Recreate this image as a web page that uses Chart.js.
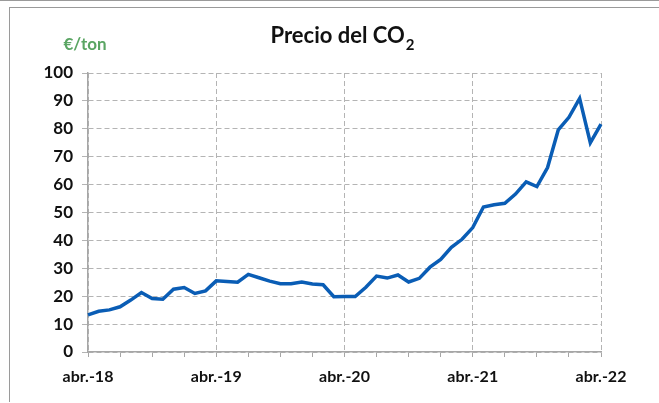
<!DOCTYPE html>
<html>
<head>
<meta charset="utf-8">
<script src="https://cdn.jsdelivr.net/npm/chart.js@4"></script>
<style>
  html, body { margin: 0; padding: 0; background: #fff; }
  #wrap { position: relative; width: 659px; height: 403px; overflow: hidden; }
  .topline { position: absolute; left: 0; top: 0; width: 659px; height: 1px; background: #9a9a9a; }
  .frame { position: absolute; left: 9px; top: 7px; width: 660px; height: 394px;
           border-left: 1px solid #9a9a9a; border-top: 1px solid #9a9a9a; }
  canvas { position: absolute; left: 0; top: 0; }
</style>
</head>
<body>
<div id="wrap">
  <div class="topline"></div>
  <div class="frame"></div>
  <canvas id="co2" width="659" height="403"></canvas>
</div>
<script>
// meses abr-18 .. abr-22
const mesesCortos = ['ene.', 'feb.', 'mar.', 'abr.', 'may.', 'jun.', 'jul.', 'ago.', 'sept.', 'oct.', 'nov.', 'dic.'];
const meses = [];
for (let i = 0; i < 49; i++) {
    const m = (3 + i) % 12;
    const a = 18 + Math.floor((3 + i) / 12);
    meses.push(mesesCortos[m] + '-' + a);
}

// €/ton
const precios = [
    13.3, 14.6, 15.1, 16.2, 18.6, 21.3, 19.2, 18.9, 22.5, 23.1, 21.0, 21.9,
    25.5, 25.3, 25.0, 27.8, 26.6, 25.4, 24.5, 24.5, 25.1, 24.4, 24.1, 19.8,
    19.9, 19.9, 23.2, 27.2, 26.5, 27.6, 25.1, 26.4, 30.4, 33.2, 37.5, 40.4,
    44.6, 52.0, 52.8, 53.3, 56.6, 61.0, 59.3, 66.1, 79.6, 84.1, 90.9, 75.0, 81.7
];

const titulo = 'Precio del CO';
const unidad = '€/ton';

const gridColor = '#b4b4b4';
const axisColor = '#a6a6a6';
const fuente = 'Lato, "Open Sans", sans-serif';

const textosPlugin = {
    id: 'textos',
    afterDraw(chart) {
        const ctx = chart.ctx;
        ctx.save();
        ctx.fillStyle = '#111';
        ctx.textBaseline = 'alphabetic';
        ctx.font = 'bold 22px ' + fuente;
        const w1 = ctx.measureText(titulo).width;
        ctx.font = 'bold 15px ' + fuente;
        const w2 = ctx.measureText('2').width;
        const x0 = 342 - (w1 + w2) / 2;
        ctx.font = 'bold 22px ' + fuente;
        ctx.textAlign = 'left';
        ctx.fillText(titulo, x0, 43);
        ctx.font = 'bold 15px ' + fuente;
        ctx.fillText('2', x0 + w1 + 1, 50);
        ctx.fillStyle = '#5aa563';
        ctx.font = 'bold 17px ' + fuente;
        ctx.textAlign = 'center';
        ctx.fillText(unidad, 85, 50);
        ctx.restore();
    }
};

new Chart(document.getElementById('co2'), {
    type: 'line',
    data: {
        labels: meses,
        datasets: [{
            data: precios,
            borderColor: '#0a5db5',
            borderWidth: 3.5,
            pointRadius: 0,
            tension: 0,
            fill: false
        }]
    },
    options: {
        responsive: false,
        animation: false,
        layout: { padding: { left: 0, right: 58, top: 73, bottom: 0 } },
        plugins: {
            legend: { display: false },
            title: { display: false },
            tooltip: { enabled: false }
        },
        scales: {
            x: {
                offset: false,
                afterFit: s => { s.height = 51; },
                grid: {
                    color: c => (c.index % 12 === 0 ? gridColor : 'rgba(0,0,0,0)'),
                    tickColor: c => (c.index % 3 === 0 ? axisColor : 'rgba(0,0,0,0)'),
                    tickLength: 5,
                    lineWidth: 1
                },
                border: { color: axisColor, width: 1.5, dash: [5, 3] },
                ticks: {
                    autoSkip: false,
                    maxRotation: 0,
                    padding: 10,
                    color: '#111',
                    font: { family: fuente, size: 16, weight: 'bold' },
                    callback: (v, i) => (i % 12 === 0 ? meses[i] : '')
                }
            },
            y: {
                min: 0,
                max: 100,
                afterFit: s => { s.width = 88; },
                grid: {
                    color: gridColor,
                    tickColor: gridColor,
                    tickLength: 6,
                    lineWidth: 1
                },
                border: { color: axisColor, width: 1.5, dash: [5, 3] },
                ticks: {
                    stepSize: 10,
                    padding: 9,
                    color: '#111',
                    font: { family: fuente, size: 17, weight: 'bold' }
                }
            }
        }
    },
    plugins: [textosPlugin]
});
</script>
</body>
</html>
